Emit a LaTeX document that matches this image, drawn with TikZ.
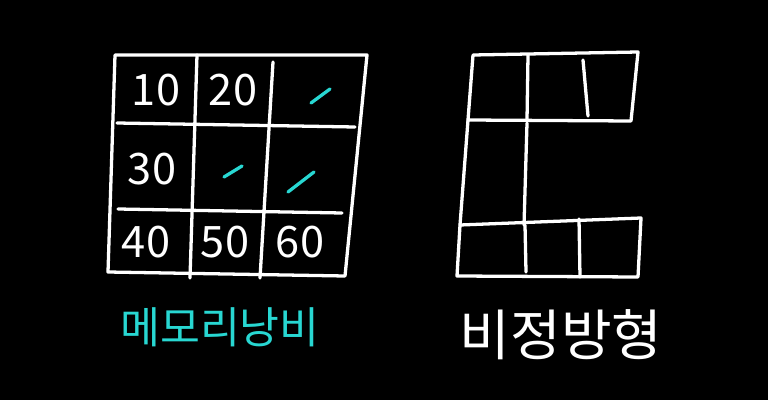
\documentclass[tikz,border=0pt]{standalone}
\usepackage{fontspec}
\newfontfamily\krfont{Noto Sans CJK KR}
\definecolor{penteal}{RGB}{40,215,210}
\begin{document}
\begin{tikzpicture}[x=0.03cm, y=-0.03cm]
		\tikzset{pen/.style={white, line width=2.8pt, line cap=round, line join=round}};
		\tikzset{num/.style={white, font=\krfont\fontsize{37}{37}\selectfont, inner sep=0pt}};
		\tikzset{slashmark/.style={penteal, line width=2.8pt, line cap=round}};

		\fill[black] (0, 0) rectangle (768, 400);

		% left table
		\draw[pen] (115, 55) -- (367, 55) -- (345, 276) -- (108, 272) -- cycle;
		\draw[pen] (117, 123) -- (355, 127);
		\draw[pen] (118, 209) -- (342, 213);
		\draw[pen] (197, 55) -- (190, 278);
		\draw[pen] (273, 62) -- (260, 278);

		\node[num] (n10) at (156, 90) {10};
		\node[num] (n20) at (233, 90) {20};
		\node[num] (n30) at (152, 169) {30};
		\node[num] (n40) at (146, 242) {40};
		\node[num] (n50) at (225, 242) {50};
		\node[num] (n60) at (300, 242) {60};

		\draw[slashmark] (311, 103) -- (330, 89);
		\draw[slashmark] (224, 177) -- (242, 166);
		\draw[slashmark] (288, 192) -- (314, 172);

		% right shape
		\draw[pen] (473, 55) -- (638, 52) -- (631, 121) -- (468, 120) -- cycle;
		\draw[pen] (528, 55) -- (527, 120);
		\draw[pen] (583, 60) -- (588, 116);
		\draw[pen] (468, 120) -- (460, 225);
		\draw[pen] (527, 123) -- (524, 225);
		\draw[pen] (460, 225) -- (641, 218) -- (638, 277) -- (457, 276) -- cycle;
		\draw[pen] (525, 225) -- (526, 272);
		\draw[pen] (579, 219) -- (580, 277);

		% labels
		\node[penteal, font=\krfont\fontsize{37}{37}\selectfont, inner sep=0pt] (waste) at (220, 327) {메모리낭비};
		\node[white, font=\krfont\fontsize{47}{47}\selectfont, inner sep=0pt] (nonsq) at (561, 335) {비정방형};
	\end{tikzpicture}
\end{document}
